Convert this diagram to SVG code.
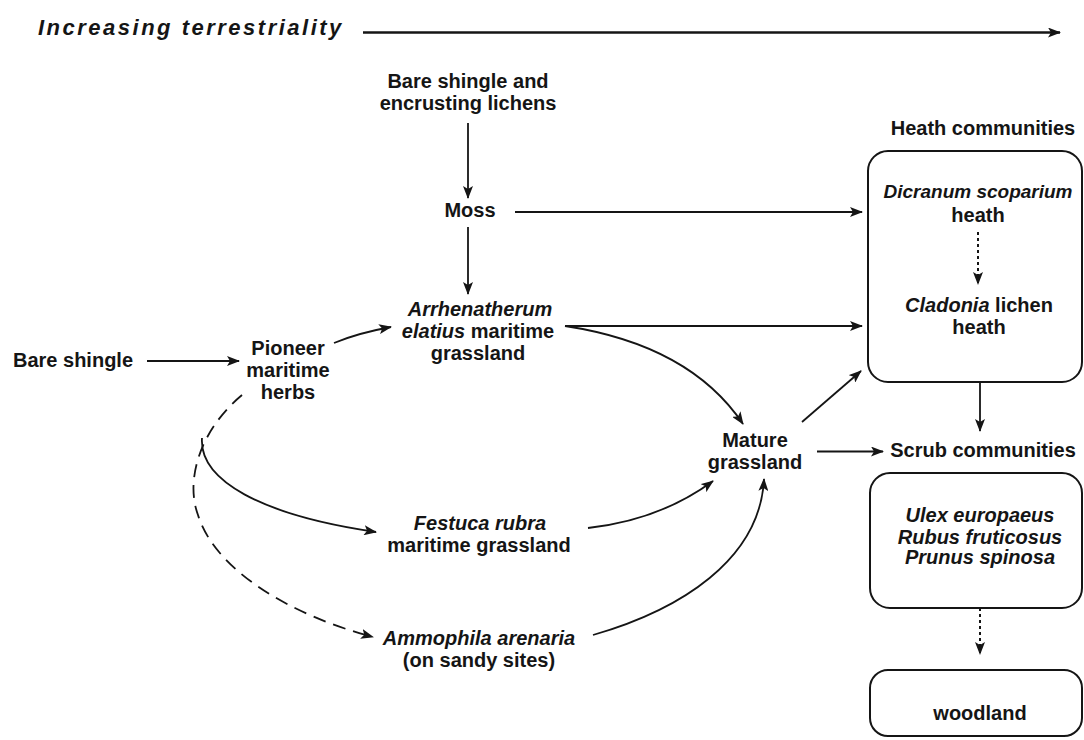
<svg xmlns="http://www.w3.org/2000/svg" width="1084" height="740" viewBox="0 0 1084 740">
<defs>
<style>
text{font-family:"Liberation Sans",Arial,sans-serif;font-size:20px;font-weight:bold;fill:#151515;text-anchor:middle}
.it{font-style:italic}
.title{font-size:22px;font-style:italic;letter-spacing:2.5px;text-anchor:start}
.ln{fill:none;stroke:#151515;stroke-width:1.8;marker-end:url(#ah)}
.dash{stroke-dasharray:13 8}
.dot{stroke-dasharray:3 3;stroke-width:2}
.box{fill:none;stroke:#151515;stroke-width:2}
</style>
<marker id="ah" markerUnits="userSpaceOnUse" markerWidth="14" markerHeight="10" refX="12" refY="5" orient="auto">
<path d="M0,0 L13,5 L0,10 L3,5 z" fill="#151515"/>
</marker>
</defs>
<rect width="1084" height="740" fill="#ffffff"/>

<g id="title">
<text class="title" x="38" y="35">Increasing terrestriality</text>
</g>

<g id="connectors">
<line class="ln" x1="363" y1="32.5" x2="1060" y2="32.5" style="stroke-width:2.3"/>
<line class="ln" x1="468" y1="123" x2="468" y2="198"/>
<line class="ln" x1="515" y1="212" x2="862" y2="212"/>
<line class="ln" x1="468" y1="227" x2="468" y2="294"/>
<line class="ln" x1="147" y1="361" x2="239" y2="361"/>
<path class="ln" d="M334 343 Q358 333 391 327"/>
<line class="ln" x1="565" y1="326" x2="862" y2="326"/>
<path class="ln" d="M565 326 Q690 345 743 424"/>
<path class="ln dash" d="M242 395 C200 430 185 480 198 515 C215 570 290 615 373 637"/>
<path class="ln" d="M202 438 C199 480 260 515 376 532"/>
<path class="ln" d="M588 528 Q660 520 713 481"/>
<path class="ln" d="M593 635 C680 610 760 560 764 479"/>
<line class="ln" x1="802" y1="422" x2="861" y2="371"/>
<line class="ln" x1="817" y1="451.5" x2="883" y2="451.5"/>
<line class="ln" x1="980" y1="382" x2="980" y2="431"/>
<line class="ln dot" x1="978" y1="232" x2="978" y2="284"/>
<line class="ln dot" x1="980" y1="608" x2="980" y2="654"/>
</g>

<g id="n-bare-lichens">
<text x="468" y="88">Bare shingle and</text>
<text x="468" y="110">encrusting lichens</text>
</g>
<g id="n-moss"><text x="470" y="217">Moss</text></g>
<g id="n-arrhenatherum">
<text class="it" x="480" y="316">Arrhenatherum</text>
<text x="478" y="338"><tspan class="it">elatius</tspan> maritime</text>
<text x="478" y="360">grassland</text>
</g>
<g id="n-bare-shingle"><text x="13" y="367" style="text-anchor:start">Bare shingle</text></g>
<g id="n-pioneer">
<text x="288" y="355">Pioneer</text>
<text x="288" y="377">maritime</text>
<text x="288" y="399">herbs</text>
</g>
<g id="n-mature">
<text x="755" y="447">Mature</text>
<text x="755" y="469">grassland</text>
</g>
<g id="n-festuca">
<text class="it" x="480" y="530">Festuca rubra</text>
<text x="479" y="552">maritime grassland</text>
</g>
<g id="n-ammophila">
<text class="it" x="479" y="645">Ammophila arenaria</text>
<text x="479" y="667">(on sandy sites)</text>
</g>
<g id="n-heath">
<text x="983" y="135">Heath communities</text>
<rect class="box" x="868" y="151" width="214" height="231" rx="20"/>
<text class="it" x="978" y="198" style="font-size:19px">Dicranum scoparium</text>
<text x="978" y="222">heath</text>
<text x="979" y="312"><tspan class="it">Cladonia</tspan> lichen</text>
<text x="979" y="334">heath</text>
</g>
<g id="n-scrub">
<text x="983" y="457">Scrub communities</text>
<rect class="box" x="870" y="473" width="212" height="135" rx="20"/>
<text class="it" x="980" y="522">Ulex europaeus</text>
<text class="it" x="980" y="544">Rubus fruticosus</text>
<text class="it" x="980" y="564">Prunus spinosa</text>
</g>
<g id="n-woodland">
<rect class="box" x="870" y="670" width="212" height="66" rx="18"/>
<text x="980" y="720">woodland</text>
</g>
</svg>
